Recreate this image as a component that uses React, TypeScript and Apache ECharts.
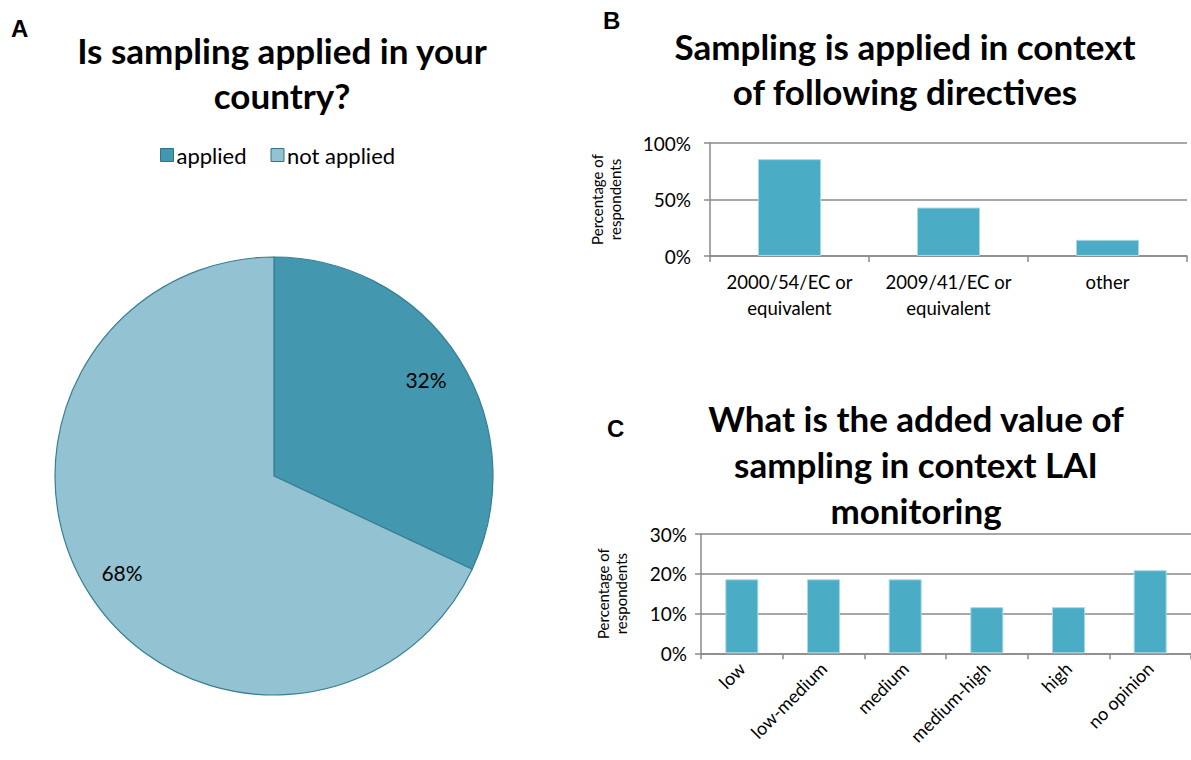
import React, { useEffect, useRef } from "react";
import * as echarts from "echarts";

// Panel A: is sampling applied
const pieNames = ["applied", "not applied"];
const pieValues = [32, 68];
const pieColors = ["#4397AE", "#93C3D3"];

// Panel B: directives
const dirCategories = ["2000/54/EC or\nequivalent", "2009/41/EC or\nequivalent", "other"];
const dirValues = [85.7, 42.9, 14.3];
const dirTicks = [0, 50, 100];

// Panel C: added value
const valCategories = ["low", "low-medium", "medium", "medium-high", "high", "no opinion"];
const valValues = [18.6, 18.6, 18.6, 11.6, 11.6, 20.9];
const valTicks = [0, 10, 20, 30];

const FONT = "Lato, 'Open Sans', sans-serif";
const BAR = "#4BACC6";
const GRID = "#8a8a8a";

export default function App() {
  const ref = useRef<HTMLDivElement>(null);
  useEffect(() => {
    document.body.style.margin = "0";
    const chart = echarts.init(ref.current!, null, { renderer: "svg" });
    const pieData = pieNames.map((n, i) => ({
      name: n,
      value: pieValues[i],
      itemStyle: { color: pieColors[i] },
    }));
    const axisCommon = {
      axisLine: { show: true, lineStyle: { color: GRID, width: 1.5 } },
      axisTick: { show: true, length: 6, lineStyle: { color: GRID, width: 1.5 } },
      splitLine: { show: true, lineStyle: { color: GRID, width: 1.5 } },
    };
    const titleStyle = { fontFamily: FONT, fontSize: 35, fontWeight: "bold", lineHeight: 45, color: "#000" };
    const letterStyle = { fontFamily: "'Liberation Sans', Arial, sans-serif", fontSize: 24, fontWeight: "bold", color: "#000" };
    chart.setOption({
      animation: false,
      textStyle: { fontFamily: FONT },
      title: [
        { text: "Is sampling applied in your\ncountry?", left: 277, top: 22, textAlign: "center", textStyle: titleStyle },
        { text: "Sampling is applied in context\nof following directives", left: 900, top: 18, textAlign: "center", textStyle: titleStyle },
        {
          text: "What is the added value of\nsampling in context LAI\nmonitoring",
          left: 911,
          top: 390,
          textAlign: "center",
          textStyle: { ...titleStyle, lineHeight: 46 },
        },
        { text: "A", left: 6, top: 11, textStyle: letterStyle },
        { text: "B", left: 598, top: 3, textStyle: letterStyle },
        { text: "C", left: 602, top: 411, textStyle: letterStyle },
      ],
      legend: {
        data: pieNames,
        left: 155,
        top: 139,
        icon: "rect",
        itemWidth: 13,
        itemHeight: 13,
        itemGap: 24,
        textStyle: { fontFamily: FONT, fontSize: 22, color: "#000", padding: [0, 0, 0, -2] },
        itemStyle: { borderColor: "#2f7386", borderWidth: 1 },
      },
      grid: [
        { left: 710, top: 143, width: 477, height: 113 },
        { left: 701, top: 534, width: 493, height: 119.3 },
      ],
      xAxis: [
        {
          type: "category",
          gridIndex: 0,
          data: dirCategories,
          ...axisCommon,
          splitLine: { show: false },
          axisLabel: { fontFamily: FONT, fontSize: 18.5, color: "#000", lineHeight: 26, margin: 13, interval: 0 },
        },
        {
          type: "category",
          gridIndex: 1,
          data: valCategories,
          ...axisCommon,
          splitLine: { show: false },
          axisLabel: { fontFamily: FONT, fontSize: 18, color: "#000", rotate: 45, margin: 12, interval: 0 },
        },
      ],
      yAxis: [
        {
          type: "value",
          gridIndex: 0,
          min: dirTicks[0],
          max: dirTicks[dirTicks.length - 1],
          interval: 50,
          ...axisCommon,
          axisLabel: { fontFamily: FONT, fontSize: 19, color: "#000", formatter: "{value}%", margin: 19 },
          name: "Percentage of\nrespondents",
          nameLocation: "middle",
          nameRotate: 90,
          nameGap: 86,
          nameTextStyle: { fontFamily: FONT, fontSize: 15, color: "#000", lineHeight: 18 },
        },
        {
          type: "value",
          gridIndex: 1,
          min: valTicks[0],
          max: valTicks[valTicks.length - 1],
          interval: 10,
          ...axisCommon,
          axisLabel: { fontFamily: FONT, fontSize: 19, color: "#000", formatter: "{value}%", margin: 14 },
          name: "Percentage of\nrespondents",
          nameLocation: "middle",
          nameRotate: 90,
          nameGap: 71,
          nameTextStyle: { fontFamily: FONT, fontSize: 15, color: "#000", lineHeight: 18 },
        },
      ],
      series: [
        {
          type: "pie",
          name: "sampling",
          center: [274, 476],
          radius: [0, 219],
          startAngle: 90,
          clockwise: true,
          data: pieData,
          label: { show: false },
          labelLine: { show: false },
          itemStyle: { borderColor: "#367f92", borderWidth: 1.2 },
          silent: true,
        },
        {
          // label carrier: transparent ring whose mid-radius lies inside the pie
          type: "pie",
          center: [274, 476],
          radius: [0, 354],
          startAngle: 90,
          clockwise: true,
          data: pieNames.map((n, i) => ({ name: n + " ", value: pieValues[i] })),
          itemStyle: { color: "rgba(0,0,0,0)" },
          label: {
            show: true,
            position: "inside",
            formatter: (p: any) => p.value + "%",
            fontFamily: FONT,
            fontSize: 21,
            color: "#000",
          },
          labelLine: { show: false },
          silent: true,
          z: 5,
        },
        {
          type: "bar",
          xAxisIndex: 0,
          yAxisIndex: 0,
          data: dirValues,
          barWidth: 63,
          itemStyle: { color: BAR, borderColor: "#a8d8e5", borderWidth: 1 },
        },
        {
          type: "bar",
          xAxisIndex: 1,
          yAxisIndex: 1,
          data: valValues,
          barWidth: 33,
          itemStyle: { color: BAR, borderColor: "#a8d8e5", borderWidth: 1 },
        },
      ],
    });
    return () => chart.dispose();
  }, []);
  return <div ref={ref} style={{ width: 1191, height: 760 }} />;
}
